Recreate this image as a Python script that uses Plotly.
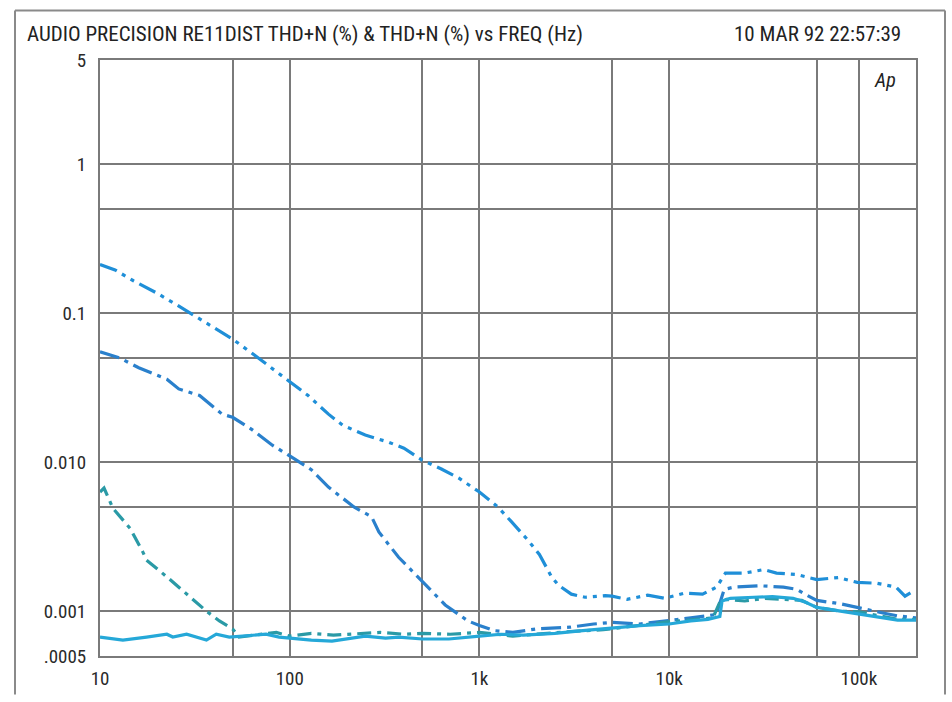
import plotly.graph_objects as go

# ---------------- data ----------------
a_freq = [10, 12, 15, 20, 25, 32, 40, 50, 63, 80, 100, 125, 160, 190, 250, 333, 400, 500,
          630, 780, 1000, 1250, 1470, 1800, 2070, 2400, 2600, 3050, 3600, 4600, 5000, 6000,
          7700, 9500, 12000, 15000, 17800, 19800, 24900, 31500, 36800, 47000, 60000, 78000,
          98000, 124000, 157000, 175000, 190000, 200000]
a_thd = [0.212, 0.195, 0.165, 0.136, 0.115, 0.095, 0.08, 0.067, 0.054, 0.043, 0.035, 0.028,
         0.021, 0.0177, 0.0152, 0.0136, 0.0124, 0.0103, 0.009, 0.0078, 0.0063, 0.005, 0.004,
         0.003, 0.0024, 0.0017, 0.0015, 0.0013, 0.00124, 0.00127, 0.00126, 0.0012, 0.00128,
         0.00122, 0.00132, 0.0013, 0.00145, 0.0018, 0.0018, 0.0019, 0.0018, 0.00176, 0.00163,
         0.00168, 0.00156, 0.00154, 0.00145, 0.00126, 0.00134, 0.00136]

b_freq = [10, 12.7, 16, 22.5, 26, 33.5, 44, 50, 63, 81, 100, 130, 160, 218, 270, 295, 375,
          500, 660, 870, 1000, 1200, 1500, 2000, 3000, 4000, 5000, 7000, 10000, 13000, 17700,
          19500, 22000, 30000, 40000, 47000, 52000, 60000, 80000, 100000, 130000, 160000, 200000]
b_thd = [0.055, 0.05, 0.043, 0.036, 0.031, 0.028, 0.021, 0.02, 0.0166, 0.013, 0.011, 0.0089,
         0.0068, 0.005, 0.0043, 0.0034, 0.0023, 0.00158, 0.0011, 0.00086, 0.0008, 0.00074,
         0.00072, 0.00076, 0.00078, 0.00082, 0.00084, 0.00082, 0.00086, 0.0009, 0.00095,
         0.0014, 0.00145, 0.00148, 0.00145, 0.0014, 0.0013, 0.00118, 0.00112, 0.00105,
         0.00098, 0.00093, 0.0009]

c_freq = [10, 10.5, 11.7, 14.4, 16.8, 17.6, 22.5, 28.6, 36.4, 42.6, 50, 54, 60, 70, 85, 100,
          130, 170, 220, 300, 400, 500, 700, 1000, 1500, 2000, 3000, 4500, 6000, 8000, 10000,
          14000, 17000, 18500, 20000, 25000, 32000, 40000, 50000, 60000, 80000, 100000,
          130000, 160000, 200000]
c_thd = [0.0063, 0.0067, 0.0049, 0.0036, 0.0025, 0.0022, 0.0017, 0.0013, 0.001, 0.00086,
         0.00076, 0.00067, 0.00068, 0.0007, 0.00072, 0.00068, 0.00071, 0.00069, 0.0007,
         0.00072, 0.0007, 0.00071, 0.0007, 0.00072, 0.00068, 0.0007, 0.00073, 0.00075,
         0.00078, 0.00082, 0.00085, 0.00088, 0.0009, 0.00115, 0.0012, 0.00117, 0.00122,
         0.0012, 0.00118, 0.00106, 0.001, 0.00099, 0.00093, 0.00088, 0.00088]

d_freq = [10, 13.2, 17.6, 22.5, 24.2, 28.6, 36.4, 41, 48, 59, 75, 88, 100, 130, 167, 250,
          320, 375, 500, 690, 1000, 1300, 1700, 2500, 3500, 5000, 7000, 10000, 13000, 16000,
          18500, 19000, 21000, 28000, 35000, 45000, 52000, 60000, 80000, 100000, 130000,
          160000, 200000]
d_thd = [0.00067, 0.00064, 0.00067, 0.0007, 0.00067, 0.0007, 0.00064, 0.0007, 0.00067,
         0.00068, 0.0007, 0.00067, 0.00066, 0.00064, 0.00063, 0.00068, 0.00066, 0.00067,
         0.00065, 0.00065, 0.00068, 0.0007, 0.00069, 0.00071, 0.00074, 0.00077, 0.0008,
         0.00082, 0.00086, 0.00088, 0.00092, 0.00117, 0.00122, 0.00124, 0.00125, 0.00122,
         0.00115, 0.00106, 0.001, 0.00096, 0.0009, 0.00087, 0.00087]

x_tickvals = [10, 50, 100, 500, 1000, 5000, 10000, 60000, 100000, 200000]
x_ticktext = ["10", "", "100", "", "1k", "", "10k", "", "100k", ""]
y_tickvals = [5, 1, 0.5, 0.1, 0.05, 0.01, 0.005, 0.001, 0.0005]
y_ticktext = ["5", "1", "", "0.1", "", "0.010", "", "0.001", ".0005"]

# ---------------- figure ----------------
FONT = "Liberation Sans Narrow, Arial Narrow, Roboto Condensed, Liberation Sans, sans-serif"
W, H = 952, 702
L, R, T, B = 100, 36, 60, 39
PW, PH = W - L - R, H - T - B


def px(x):
    return (x - L) / PW


def py(y):
    return (H - B - y) / PH


fig = go.Figure()
traces = [
    (a_freq, a_thd, "#1f8fd8", "18px,6px,4px,6px,4px,6px"),
    (b_freq, b_thd, "#2a80cc", "20px,6px,4px,6px"),
    (c_freq, c_thd, "#2a9aa6", "14px,6px,4px,6px"),
    (d_freq, d_thd, "#25a8d8", "solid"),
]
for xs, ys, col, dash in traces:
    fig.add_trace(go.Scatter(x=xs, y=ys, mode="lines",
                             line=dict(color=col, width=3.2, dash=dash),
                             showlegend=False, hoverinfo="skip"))

axis_common = dict(showgrid=True, gridcolor="#7a7a7a", gridwidth=1.8,
                   showline=True, linecolor="#7a7a7a", linewidth=2, mirror=True,
                   ticks="", zeroline=False,
                   tickfont=dict(family=FONT, size=19, color="#2a2a2a"))

fig.update_xaxes(type="log", range=[1, 5.30103], tickmode="array",
                 tickvals=x_tickvals, ticktext=x_ticktext, ticklabelstandoff=4,
                 **axis_common)
fig.update_yaxes(type="log", range=[-3.30103, 0.69897], tickmode="array",
                 tickvals=y_tickvals, ticktext=y_ticktext, ticklabelstandoff=8,
                 **axis_common)

annotations = [
    dict(x=px(25), y=py(34), text="AUDIO PRECISION RE11DIST THD+N (%) &amp; THD+N (%) vs FREQ (Hz)",
         xanchor="left", yanchor="middle", font=dict(family=FONT, size=21, color="#222222")),
    dict(x=px(903), y=py(34), text="10 MAR 92 22:57:39",
         xanchor="right", yanchor="middle", font=dict(family=FONT, size=21, color="#222222")),
    dict(x=px(885), y=py(80), text="<i>Ap</i>",
         xanchor="center", yanchor="middle", font=dict(family=FONT, size=20, color="#222222")),
]
for a in annotations:
    a.update(xref="paper", yref="paper", showarrow=False)

shapes = [
    dict(type="line", xref="paper", yref="paper", x0=px(15), x1=px(15), y0=py(10), y1=py(702),
         line=dict(color="#8a8a8a", width=2)),
    dict(type="line", xref="paper", yref="paper", x0=px(15), x1=px(945), y0=py(10), y1=py(10),
         line=dict(color="#8a8a8a", width=2)),
    dict(type="line", xref="paper", yref="paper", x0=px(945), x1=px(945), y0=py(10), y1=py(702),
         line=dict(color="#8a8a8a", width=2)),
]

fig.update_layout(width=W, height=H, margin=dict(l=L, r=R, t=T, b=B),
                  paper_bgcolor="white", plot_bgcolor="white",
                  annotations=annotations, shapes=shapes, showlegend=False)

fig.write_html("out.html")
